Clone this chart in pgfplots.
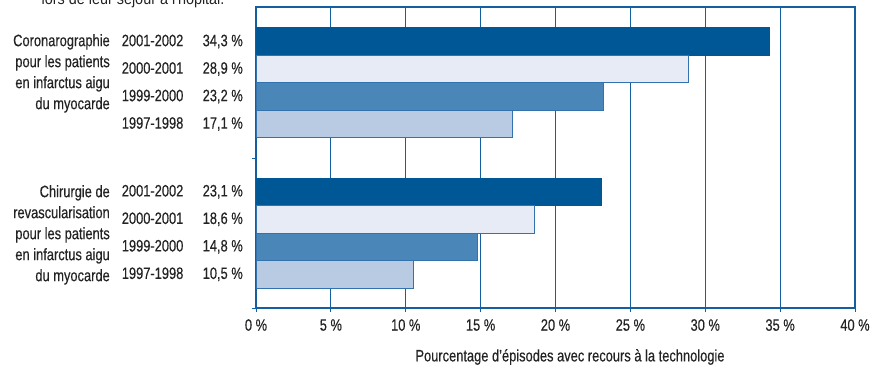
\documentclass[border=0pt]{standalone}
\usepackage{fontspec}
\setmainfont{Liberation Sans}[FakeStretch=0.78, FakeBold=0.35]
\newfontfamily\widefont{Liberation Sans}[FakeStretch=0.9]
\usepackage{pgfplots}
\pgfplotsset{compat=1.18}

\definecolor{darkbar}{RGB}{0,87,150}
\definecolor{palebar}{RGB}{230,235,245}
\definecolor{midbar}{RGB}{74,134,183}
\definecolor{lightbar}{RGB}{184,203,227}
\definecolor{frameblue}{RGB}{20,95,160}
\definecolor{edgeblue}{RGB}{50,115,175}
\definecolor{txt}{RGB}{35,35,35}

\newcommand{\yl}[2]{\makebox[121bp]{#1\hfill #2~\%}}

\begin{document}
\begin{tikzpicture}[font=\fontsize{16.5bp}{21bp}\selectfont, every node/.style={text=txt}]
\begin{scope}
\clip (0,0) rectangle (878bp,-368bp);
\node[anchor=base east, font=\widefont\fontsize{16bp}{18bp}\selectfont] at (228bp,-4.5bp) {lors de leur séjour à l'hôpital.};
\end{scope}

\begin{axis}[
  at={(256bp,-308bp)}, anchor=south west,
  scale only axis, width=599bp, height=301bp,
  xmin=0, xmax=40, ymin=0, ymax=301,
  xbar, bar shift=0pt, bar width=27.5,
  axis line style={frameblue, line width=1.1bp},
  xmajorgrids, grid style={frameblue, line width=1bp},
  xtick={0,5,...,40},
  xticklabels={0~\%,5~\%,10~\%,15~\%,20~\%,25~\%,30~\%,35~\%,40~\%},
  xtick style={frameblue, line width=1bp},
  major tick length=4bp, tick align=outside,
  xtick pos=bottom,
  xticklabel style={inner sep=0pt, yshift=-7bp, anchor=north},
  ytick={33.75,61.25,88.75,116.25,184,211.5,239,266.5},
  yticklabels={\yl{1997-1998}{10,5},\yl{1999-2000}{14,8},\yl{2000-2001}{18,6},\yl{2001-2002}{23,1},
               \yl{1997-1998}{17,1},\yl{1999-2000}{23,2},\yl{2000-2001}{28,9},\yl{2001-2002}{34,3}},
  ytick style={draw=none},
  ytick pos=left,
  yticklabel style={inner sep=0pt, anchor=east, xshift=-9bp},
  extra y ticks={0,150},
  extra y tick labels={},
  extra y tick style={ytick style={draw=frameblue, line width=1bp}, major tick length=4bp},
  clip=false,
]
% 2001-2002
\addplot[fill=darkbar, draw=darkbar, line width=1bp] coordinates {(34.3,266.5) (23.1,116.25)};
% 2000-2001
\addplot[fill=palebar, draw=edgeblue, line width=1bp] coordinates {(28.9,239) (18.6,88.75)};
% 1999-2000
\addplot[fill=midbar, draw=edgeblue, line width=1bp] coordinates {(23.2,211.5) (14.8,61.25)};
% 1997-1998
\addplot[fill=lightbar, draw=edgeblue, line width=1bp] coordinates {(17.1,184) (10.5,33.75)};
\end{axis}

\node[anchor=north east, align=right, inner sep=0pt] at (110bp,-34bp)
  {Coronarographie\\pour les patients\\en infarctus aigu\\du myocarde};
\node[anchor=north east, align=right, inner sep=0pt] at (110bp,-185bp)
  {Chirurgie de\\revascularisation\\pour les patients\\en infarctus aigu\\du myocarde};
\node[anchor=center, inner sep=0pt] at (570bp,-357bp)
  {Pourcentage d'épisodes avec recours à la technologie};

\pgfresetboundingbox
\useasboundingbox (0,0) rectangle (878bp,-368bp);
\end{tikzpicture}
\end{document}
